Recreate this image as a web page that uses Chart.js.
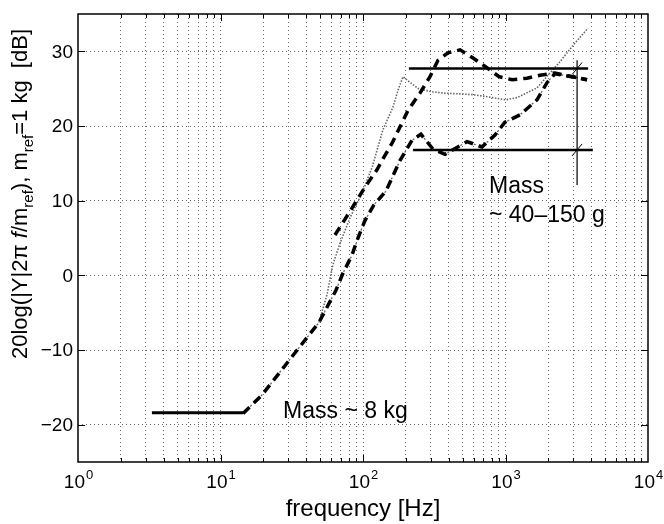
<!DOCTYPE html>
<html>
<head>
<meta charset="utf-8">
<script src="https://cdn.jsdelivr.net/npm/chart.js@4.4.1/dist/chart.umd.min.js"></script>
<style>
  html, body { margin: 0; padding: 0; background: #fff; }
</style>
</head>
<body>
<canvas id="chart" width="664" height="524"></canvas>
<script>
// axis ticks
const decadeExps = [0, 1, 2, 3, 4];
const dbTicks = [-20, -10, 0, 10, 20, 30];

// measured curve A (thick dashed)
const freqA = [63.6, 72.4, 83.7, 95.3, 108, 125, 140, 160, 182, 207, 251, 295, 336, 395, 480, 592, 741, 900, 1111, 1416, 1747, 2223, 2930, 3733];
const dbA = [5.4, 7.1, 9.0, 10.75, 12.35, 14.1, 15.8, 17.7, 19.9, 22.1, 24.4, 26.6, 28.8, 29.8, 30.2, 29.1, 27.8, 26.6, 26.2, 26.4, 26.8, 27.1, 26.6, 26.2];

// measured curve B (thick dash-dot)
const freqB = [14.4, 19.6, 33.9, 49.1, 64.6, 72.4, 83.7, 92.2, 103, 119, 145, 162, 182, 221, 255, 310, 376, 537, 684, 844, 991, 1265, 1663, 1955, 2223, 2930, 3733];
const dbB = [-18.5, -16.0, -10.2, -6.3, -2.0, 0.3, 2.7, 5.0, 7.3, 9.4, 11.3, 13.3, 15.4, 18.1, 18.9, 16.9, 16.2, 17.9, 17.2, 18.8, 20.5, 21.5, 23.5, 25.8, 27.0, 26.6, 26.2];

// measured curve C (thin dotted)
const freqC = [49.1, 56, 61.6, 69, 81, 98.4, 116, 138, 162, 176, 191, 215, 245, 300, 376, 592, 817, 1000, 1205, 1663, 2052, 2410, 2978, 3793];
const dbC = [-6.3, -2.5, 1.5, 4.3, 7.7, 11.0, 14.5, 19.5, 22.5, 24.8, 26.6, 25.8, 25.0, 24.6, 24.4, 24.2, 23.8, 23.5, 23.8, 25.1, 27.1, 28.6, 30.8, 33.1];

// mass lines
const heavyMassF = [3.3, 14.4];
const heavyMassDb = [-18.4, -18.4];
const upperMassF = [210, 3800];
const upperMassDb = [27.7, 27.7];
const lowerMassF = [224, 4100];
const lowerMassDb = [16.8, 16.8];
const bracketF = [3180, 3180];
const bracketDb = [28.8, 12.1];

const gridFreqs = [];
decadeExps.slice(0, -1).forEach(e => {
  for (let m = 1; m < 10; m++) {
    if (m === 1 && e === 0) continue;
    gridFreqs.push(m * Math.pow(10, e));
  }
});

function curve(fs, dbs, style) {
  return Object.assign({
    data: fs.map((f, i) => ({ x: f, y: dbs[i] })),
    showLine: true, pointRadius: 0, fill: false, tension: 0
  }, style);
}

const FONT = '"Liberation Sans", Arial, Helvetica, sans-serif';

const notes = [
  { text: 'Mass ~ 8 kg', f: 27.5, db: -19.1 },
  { text: 'Mass', f: 766, db: 11.0 },
  { text: '~ 40\u2013150 g', f: 766, db: 7.2 }
];

const framePlugin = {
  id: 'frame',
  afterDraw(chart) {
    const { ctx, chartArea: a, scales: { x, y } } = chart;
    ctx.save();

    // slash marks on the bracket
    ctx.strokeStyle = '#000';
    ctx.lineWidth = 1;
    ctx.beginPath();
    [upperMassDb[0], lowerMassDb[0]].forEach(v => {
      const px = x.getPixelForValue(bracketF[0]);
      const py = y.getPixelForValue(v);
      ctx.moveTo(px - 5, py + 6);
      ctx.lineTo(px + 5, py - 6);
    });
    ctx.stroke();

    // box
    ctx.lineWidth = 1.5;
    ctx.strokeRect(a.left, a.top, a.right - a.left, a.bottom - a.top);

    // inward ticks
    ctx.lineWidth = 1;
    ctx.beginPath();
    gridFreqs.forEach(f => {
      const px = Math.round(x.getPixelForValue(f)) + 0.5;
      const len = Math.abs(Math.log10(f) - Math.round(Math.log10(f))) < 1e-9 ? 7 : 4;
      ctx.moveTo(px, a.bottom); ctx.lineTo(px, a.bottom - len);
      ctx.moveTo(px, a.top); ctx.lineTo(px, a.top + len);
    });
    dbTicks.forEach(v => {
      const py = Math.round(y.getPixelForValue(v)) + 0.5;
      ctx.moveTo(a.left, py); ctx.lineTo(a.left + 7, py);
      ctx.moveTo(a.right, py); ctx.lineTo(a.right - 7, py);
    });
    ctx.stroke();

    ctx.fillStyle = '#000';
    // y tick labels
    ctx.font = '19px ' + FONT;
    ctx.textAlign = 'right';
    ctx.textBaseline = 'middle';
    dbTicks.forEach(v => {
      const s = v < 0 ? '\u2212' + Math.abs(v) : String(v);
      ctx.fillText(s, a.left - 5, y.getPixelForValue(v) + 1);
    });

    // x tick labels 10^k
    ctx.textAlign = 'left';
    ctx.textBaseline = 'alphabetic';
    decadeExps.forEach(e => {
      const px = x.getPixelForValue(Math.pow(10, e));
      ctx.font = '19px ' + FONT;
      const wb = ctx.measureText('10').width;
      ctx.font = '13px ' + FONT;
      const ws = ctx.measureText(String(e)).width;
      const x0 = px - (wb + ws) / 2;
      ctx.font = '19px ' + FONT;
      ctx.fillText('10', x0, 488);
      ctx.font = '13px ' + FONT;
      ctx.fillText(String(e), x0 + wb + 1, 479);
    });

    // x title
    ctx.font = '24px ' + FONT;
    ctx.textAlign = 'center';
    ctx.fillText('frequency [Hz]', (a.left + a.right) / 2, 516);

    // y title with subscripts
    const parts = [
      { t: '20log(|Y|2\u03c0 ', f: '22px ' + FONT, dy: 0 },
      { t: 'f', f: 'italic 22px ' + FONT, dy: 0 },
      { t: '/m', f: '22px ' + FONT, dy: 0 },
      { t: 'ref', f: '15px ' + FONT, dy: 6 },
      { t: '), m', f: '22px ' + FONT, dy: 0 },
      { t: 'ref', f: '15px ' + FONT, dy: 6 },
      { t: '=1 kg  [dB]', f: '22px ' + FONT, dy: 0 }
    ];
    let total = 0;
    parts.forEach(p => { ctx.font = p.f; p.w = ctx.measureText(p.t).width; total += p.w; });
    ctx.translate(27, 194);
    ctx.rotate(-Math.PI / 2);
    ctx.textAlign = 'left';
    let cx = -total / 2;
    parts.forEach(p => { ctx.font = p.f; ctx.fillText(p.t, cx, p.dy); cx += p.w; });
    ctx.setTransform(1, 0, 0, 1, 0, 0);

    // annotations
    ctx.font = '23px ' + FONT;
    ctx.textAlign = 'left';
    notes.forEach(n => {
      ctx.fillText(n.text, x.getPixelForValue(n.f), y.getPixelForValue(n.db));
    });
    ctx.restore();
  }
};

const gridStyle = { color: '#666', lineWidth: 1, drawTicks: false };
const borderStyle = { display: false, dash: [1, 3] };

new Chart(document.getElementById('chart'), {
  type: 'scatter',
  data: {
    datasets: [
      curve(heavyMassF, heavyMassDb, { borderColor: '#000', borderWidth: 3 }),
      curve(upperMassF, upperMassDb, { borderColor: '#000', borderWidth: 2.5 }),
      curve(lowerMassF, lowerMassDb, { borderColor: '#000', borderWidth: 2.5 }),
      curve(bracketF, bracketDb, { borderColor: '#000', borderWidth: 1.2 }),
      curve(freqA, dbA, { borderColor: '#000', borderWidth: 3.5, borderDash: [9, 6] }),
      curve(freqB, dbB, { borderColor: '#000', borderWidth: 3.5, borderDash: [9, 6] }),
      curve(freqB, dbB, { borderColor: '#666', borderWidth: 1.3, borderDash: [2, 3] }),
      curve(freqC, dbC, { borderColor: '#666', borderWidth: 1.6, borderDash: [1.5, 1.5] })
    ]
  },
  options: {
    responsive: false,
    animation: false,
    events: [],
    layout: { padding: { left: 0, right: 16, top: 14, bottom: 0 } },
    plugins: { legend: { display: false }, tooltip: { enabled: false } },
    scales: {
      x: {
        type: 'logarithmic', min: 1, max: 10000,
        afterBuildTicks: s => { s.ticks = gridFreqs.map(v => ({ value: v })); },
        afterFit: s => { s.height = 62; },
        ticks: { display: false },
        grid: gridStyle,
        border: borderStyle
      },
      y: {
        type: 'linear', min: -25, max: 35,
        afterBuildTicks: s => { s.ticks = dbTicks.map(v => ({ value: v })); },
        afterFit: s => { s.width = 78; },
        ticks: { display: false },
        grid: gridStyle,
        border: borderStyle
      }
    }
  },
  plugins: [framePlugin]
});
</script>
</body>
</html>
